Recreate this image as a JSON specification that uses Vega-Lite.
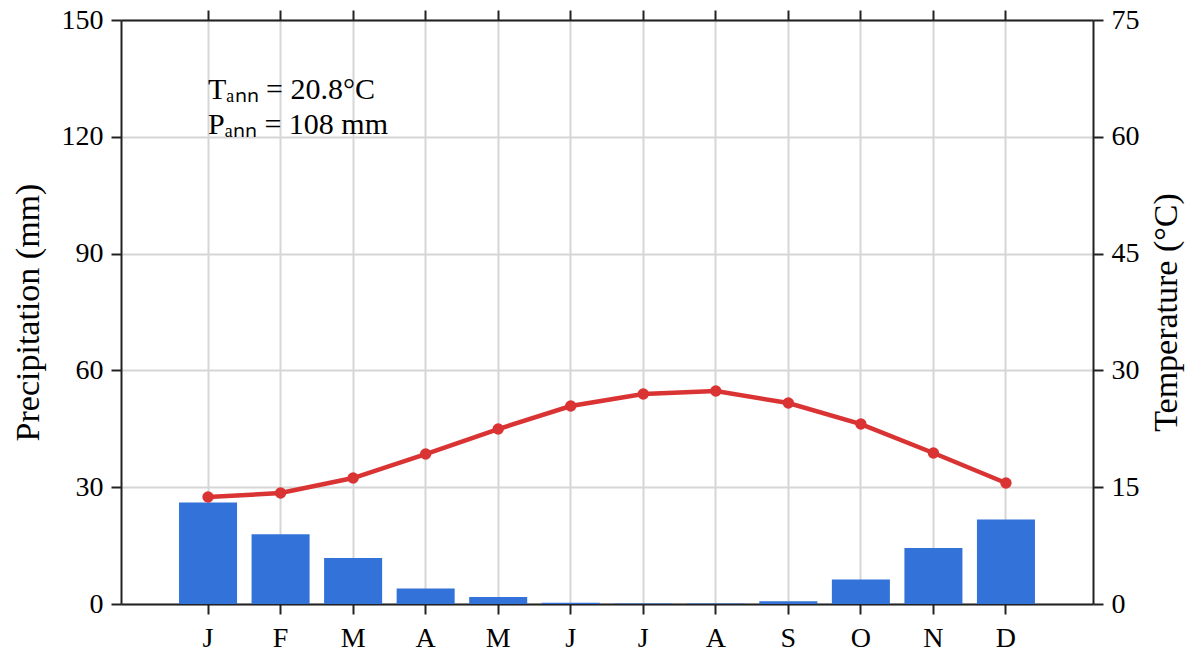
{
  "$schema": "https://vega.github.io/schema/vega-lite/v6.json",
  "autosize": "none",
  "width": 972,
  "height": 584,
  "padding": {"left": 121, "top": 20, "right": 93, "bottom": 51},
  "background": "white",
  "config": {
    "view": {"stroke": null},
    "font": "Liberation Serif",
    "axis": {
      "labelFont": "Liberation Serif",
      "titleFont": "Liberation Serif",
      "labelFontSize": 28,
      "titleFontSize": 34,
      "titleFontWeight": "normal",
      "labelColor": "black",
      "titleColor": "black",
      "domainColor": "#222222",
      "domainWidth": 2,
      "tickColor": "#222222",
      "tickWidth": 2,
      "tickSize": 10,
      "labelPadding": 8,
      "gridColor": "#d6d6d6",
      "gridWidth": 2
    }
  },
  "datasets": {
    "climate": [
      {"month": 1, "P": 26.1, "T": 13.74},
      {"month": 2, "P": 17.9, "T": 14.25},
      {"month": 3, "P": 11.8, "T": 16.18},
      {"month": 4, "P": 4.0, "T": 19.26},
      {"month": 5, "P": 1.8, "T": 22.47},
      {"month": 6, "P": 0.3, "T": 25.43},
      {"month": 7, "P": 0.15, "T": 26.97},
      {"month": 8, "P": 0.15, "T": 27.35},
      {"month": 9, "P": 0.7, "T": 25.81},
      {"month": 10, "P": 6.3, "T": 23.11},
      {"month": 11, "P": 14.4, "T": 19.39},
      {"month": 12, "P": 21.7, "T": 15.54}
    ],
    "notes": [
      {"month": 1, "P": 132, "label": "Tₐₙₙ = 20.8°C"},
      {"month": 1, "P": 123, "label": "Pₐₙₙ = 108 mm"}
    ]
  },
  "layer": [
    {
      "data": {"name": "climate"},
      "mark": {"type": "bar", "color": "#3372d8"},
      "encoding": {
        "x": {
          "field": "month",
          "type": "ordinal",
          "scale": {"domain": [1,2,3,4,5,6,7,8,9,10,11,12], "paddingInner": 0.2, "paddingOuter": 0.8},
          "axis": {
            "orient": "bottom",
            "title": null,
            "labelAngle": 0,
            "grid": true,
            "labelPadding": 10,
            "labelExpr": "['J','F','M','A','M','J','J','A','S','O','N','D'][datum.value-1]"
          }
        },
        "y": {
          "field": "P",
          "type": "quantitative",
          "scale": {"domain": [0, 150], "nice": false},
          "axis": {
            "title": "Precipitation (mm)",
            "values": [0, 30, 60, 90, 120, 150],
            "grid": true,
            "titlePadding": 16
          }
        }
      }
    },
    {
      "data": {"name": "notes"},
      "mark": {"type": "text", "align": "left", "baseline": "middle", "fontSize": 30, "font": "Liberation Serif", "color": "black"},
      "encoding": {
        "x": {"field": "month", "type": "ordinal", "axis": null},
        "y": {"field": "P", "type": "quantitative", "scale": {"domain": [0, 150], "nice": false}, "axis": null},
        "text": {"field": "label"}
      }
    },
    {
      "data": {"name": "climate"},
      "mark": {"type": "line", "color": "#d93333", "strokeWidth": 4.5, "point": {"filled": true, "size": 130, "color": "#d93333", "opacity": 1}},
      "encoding": {
        "x": {
          "field": "month",
          "type": "ordinal",
          "axis": {"orient": "top", "labels": false, "title": null, "grid": false, "domain": true}
        },
        "y": {
          "field": "T",
          "type": "quantitative",
          "scale": {"domain": [0, 75], "nice": false},
          "axis": {
            "orient": "right",
            "title": "Temperature (°C)",
            "titleAngle": -90,
            "titleBaseline": "top",
            "values": [0, 15, 30, 45, 60, 75],
            "grid": false,
            "titlePadding": 10
          }
        }
      }
    }
  ],
  "resolve": {"scale": {"y": "independent"}, "axis": {"x": "independent"}}
}
